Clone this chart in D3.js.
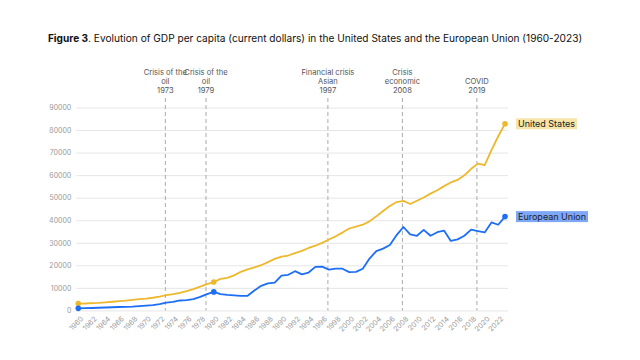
<!DOCTYPE html>
<html><head><meta charset="utf-8">
<script src="https://cdn.jsdelivr.net/npm/d3@7"></script>
<style>body{margin:0;background:#fff}svg{display:block}</style>
</head><body>
<svg id="c" width="640" height="360"></svg>
<script>
const years = d3.range(1960, 2024);
const usValues = [3007,3067,3244,3375,3574,3828,4146,4336,4696,5032,5234,5609,6094,6726,7226,7801,8592,9453,10565,11674,
12575,13976,14434,15544,17121,18237,19071,20039,21417,22857,23889,24342,25419,26387,27695,28691,29968,31459,32854,34515,
36330,37134,37998,39490,41725,44123,46302,48050,48570,47195,48651,50066,51784,53291,55124,56763,57867,59915,62805,65120,
64410,71060,77250,82770];
const euValues = [900,980,1070,1170,1290,1390,1500,1600,1700,1880,2100,2350,2750,3450,3800,4400,4550,5000,6000,7200,
8200,7200,6900,6700,6400,6500,8800,10900,12000,12300,15400,15800,17400,16000,16800,19300,19400,18100,18500,18500,
17000,17100,18500,23000,26300,27400,29000,33400,37000,33700,33100,35700,33100,34700,35400,30800,31500,33100,35800,35200,
34600,39000,38000,41600];
const yTicks = [0,10000,20000,30000,40000,50000,60000,70000,80000,90000];
const xTicks = d3.range(1960, 2023, 2);
const events = [
  {year:1973, lines:["Crisis of the","oil","1973"]},
  {year:1979, lines:["Crisis of the","oil","1979"]},
  {year:1997, lines:["Financial crisis","Asian","1997"]},
  {year:2008, lines:["Crisis","economic","2008"]},
  {year:2019, lines:["COVID","2019"]}
];
const markerYears = [1960, 1980, 2023];
const series = [
  {name:"United States", values:usValues, color:"#EDB82C", bg:"#F7E4A8"},
  {name:"European Union", values:euValues, color:"#1D6EF7", bg:"#7EA8F7"}
];

const svg = d3.select("#c");
const font = "Inter, 'Noto Sans', sans-serif";
const x = d3.scaleLinear().domain([1960, 2023]).range([78.3, 505]);
const y = d3.scaleLinear().domain([0, 90000]).range([310.4, 107.5]);

// title
const title = svg.append("text").attr("x", 315).attr("y", 42).attr("text-anchor","middle")
  .attr("font-family", font).attr("font-size", 10.5).attr("fill","#111");
title.append("tspan").attr("font-weight","bold").text("Figure 3");
title.append("tspan").text(". Evolution of GDP per capita (current dollars) in the United States and the European Union (1960-2023)");
const tw = title.node().getComputedTextLength();
title.attr("font-size", 10.5 * 535 / tw);

// grid + y axis
const yAxis = d3.axisLeft(y).tickValues(yTicks).tickSize(-(x.range()[1] - x.range()[0] + 5)).tickPadding(5).tickFormat(d3.format("d"));
const gy = svg.append("g").attr("transform", `translate(${x.range()[0]-2},0)`).call(yAxis);
gy.select(".domain").remove();
gy.selectAll(".tick line").attr("stroke","#e6e6e6").attr("stroke-width",1);
gy.selectAll(".tick text").attr("font-family", font).attr("font-size", 7).attr("fill","#999");

// x axis labels
const xAxis = d3.axisBottom(x).tickValues(xTicks).tickSize(0).tickFormat(d3.format("d"));
const gx = svg.append("g").attr("transform", `translate(0,${y(0)})`).call(xAxis);
gx.select(".domain").remove();
gx.selectAll(".tick text").attr("font-family", font).attr("font-size", 7.2).attr("fill","#999")
  .attr("text-anchor","end").attr("dy", null).attr("y", null)
  .attr("transform","translate(5,9) rotate(-45)");

// event lines
const ev = svg.append("g");
events.forEach(e => {
  ev.append("line").attr("x1", x(e.year)-1).attr("x2", x(e.year)-1).attr("y1", 98).attr("y2", y(0))
    .attr("stroke","#aaa").attr("stroke-width",1).attr("stroke-dasharray","4,3");
  const t = ev.append("text").attr("text-anchor","middle").attr("font-family", font).attr("font-size", 7.6).attr("fill","#555");
  const n = e.lines.length;
  e.lines.forEach((l, i) => {
    t.append("tspan").attr("x", x(e.year)-1).attr("y", 92.5 - (n-1-i)*8.7).text(l);
  });
});

// lines
const line = d3.line().x((d,i) => x(years[i])).y(d => y(d));
series.forEach(s => {
  svg.append("path").datum(s.values).attr("d", line).attr("fill","none")
    .attr("stroke", s.color).attr("stroke-width", 1.8).attr("stroke-linejoin","round");
  svg.selectAll(null).data(markerYears).enter().append("circle")
    .attr("cx", d => x(d)).attr("cy", d => y(s.values[years.indexOf(d)])).attr("r", 2.8).attr("fill", s.color);
  const last = s.values[s.values.length-1];
  const g = svg.append("g").attr("transform", `translate(516,${y(last)})`);
  const txt = g.append("text").attr("x", 2).attr("y", 3.3).attr("font-family", font).attr("font-size", 9).attr("fill","#222").text(s.name);
  const w = txt.node().getComputedTextLength();
  g.insert("rect","text").attr("x",0).attr("y",-5.5).attr("width", w+4).attr("height", 11).attr("fill", s.bg);
});
</script>
</body></html>
